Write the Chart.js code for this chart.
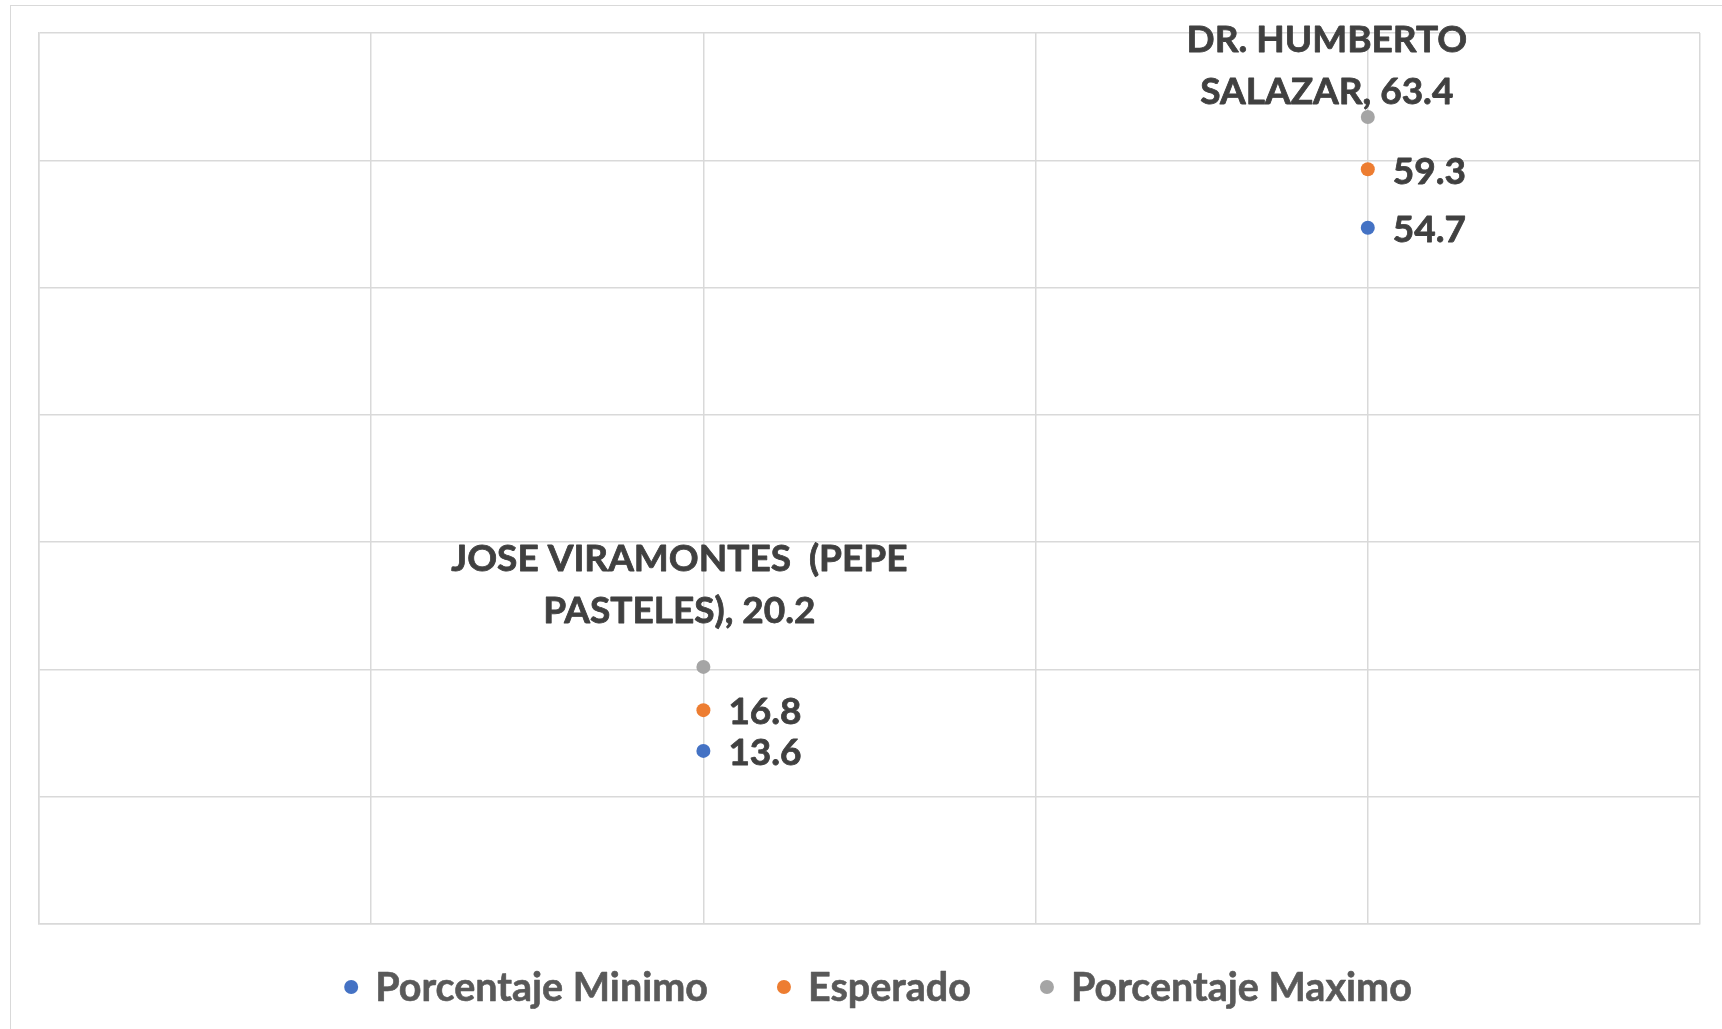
<!DOCTYPE html>
<html>
<head>
<meta charset="utf-8">
<script src="https://cdn.jsdelivr.net/npm/chart.js@4/dist/chart.umd.min.js"></script>
<style>
  html, body { margin: 0; padding: 0; background: #fff; overflow: hidden; }
  #frame { position: absolute; left: 10px; top: 5px; width: 1800px; height: 1100px; border: 1.5px solid #d9d9d9; box-sizing: border-box; }
  #chart { position: absolute; left: 0; top: 0; }
</style>
</head>
<body>
<div id="frame"></div>
<canvas id="chart" width="1722" height="1029"></canvas>
<script>
// Candidates and where they sit on the x axis
const categoryLines = [['JOSE VIRAMONTES  (PEPE', 'PASTELES)'], ['DR. HUMBERTO', 'SALAZAR']];
const xPositions = [2, 4];

// Series values (%)
const porcentajeMinimo = [13.6, 54.7];
const esperado = [16.8, 59.3];
const porcentajeMaximo = [20.2, 63.4];

const seriesNames = ['Porcentaje Minimo', 'Esperado', 'Porcentaje Maximo'];
const seriesColors = ['#4472C4', '#ED7D31', '#A5A5A5'];

const FONT = 'Lato, "Open Sans", sans-serif';
const toPoints = values => values.map((v, i) => ({ x: xPositions[i], y: v }));

// text with a thin outline so Lato looks closer to the heavier original
function boldText(ctx, text, x, y) {
  ctx.strokeText(text, x, y);
  ctx.fillText(text, x, y);
}

// Draws the value labels next to each point
const pointLabels = {
  id: 'pointLabels',
  afterDatasetsDraw(chart) {
    const ctx = chart.ctx;
    const fs = 37;
    ctx.save();
    ctx.font = 'bold ' + fs + 'px ' + FONT;
    ctx.fillStyle = '#404040';
    ctx.strokeStyle = '#404040';
    ctx.lineWidth = 0.8;
    ctx.lineJoin = 'round';
    ctx.textBaseline = 'alphabetic';
    chart.data.datasets.forEach((ds, di) => {
      const meta = chart.getDatasetMeta(di);
      meta.data.forEach((pt, i) => {
        const value = ds.data[i].y.toFixed(1);
        if (di === 2) {
          // max series: name + value, centred above the point
          const offs = [{ dx: -24, dy: -109.5 }, { dx: -41, dy: -78 }][i];
          const lines = categoryLines[i].slice();
          lines[lines.length - 1] += ', ' + value;
          ctx.textAlign = 'center';
          lines.forEach((line, li) => {
            boldText(ctx, line, pt.x + offs.dx, pt.y + offs.dy + li * 52 + fs * 0.36);
          });
        } else {
          ctx.textAlign = 'left';
          boldText(ctx, value, pt.x + 25, pt.y + 1 + fs * 0.36);
        }
      });
    });
    ctx.restore();
  }
};

// Legend drawn below the plot
const bottomLegend = {
  id: 'bottomLegend',
  afterDraw(chart) {
    const ctx = chart.ctx;
    const fs = 39.5;
    const y = 987;
    ctx.save();
    ctx.font = 'bold ' + fs + 'px ' + FONT;
    ctx.lineWidth = 0.6;
    ctx.lineJoin = 'round';
    const items = chart.data.datasets.map(ds => ({ text: ds.label, color: ds.backgroundColor, w: ctx.measureText(ds.label).width }));
    const dotToText = 24, gap = 76;
    let total = 0;
    items.forEach((it, i) => { total += dotToText + it.w + (i < items.length - 1 ? gap : 0); });
    let x = 878 - (total + 7) / 2 + 7;
    ctx.textBaseline = 'alphabetic';
    ctx.textAlign = 'left';
    items.forEach(it => {
      ctx.fillStyle = it.color;
      ctx.beginPath();
      ctx.arc(x, y, 7, 0, Math.PI * 2);
      ctx.fill();
      ctx.fillStyle = '#595959';
      ctx.strokeStyle = '#595959';
      boldText(ctx, it.text, x + dotToText, y + fs * 0.35);
      x += dotToText + it.w + gap;
    });
    ctx.restore();
  }
};

const datasets = [porcentajeMinimo, esperado, porcentajeMaximo].map((values, i) => ({
  label: seriesNames[i],
  data: toPoints(values),
  backgroundColor: seriesColors[i],
  borderColor: seriesColors[i],
  pointRadius: 7,
  pointBorderWidth: 0,
  showLine: false
}));

const gridStyle = { color: '#d9d9d9', lineWidth: 1.5, drawTicks: false };

new Chart(document.getElementById('chart'), {
  type: 'scatter',
  data: { datasets },
  options: {
    responsive: false,
    animation: false,
    devicePixelRatio: 1,
    layout: { padding: { left: 39, top: 33, right: 22, bottom: 105 } },
    plugins: { legend: { display: false }, tooltip: { enabled: false } },
    scales: {
      x: {
        type: 'linear', min: 0, max: 5,
        ticks: { display: false, stepSize: 1 },
        grid: gridStyle,
        border: { color: '#d9d9d9', width: 1.5 }
      },
      y: {
        min: 0, max: 70,
        ticks: { display: false, stepSize: 10 },
        grid: gridStyle,
        border: { color: '#d9d9d9', width: 1.5 }
      }
    }
  },
  plugins: [pointLabels, bottomLegend]
});
</script>
</body>
</html>
